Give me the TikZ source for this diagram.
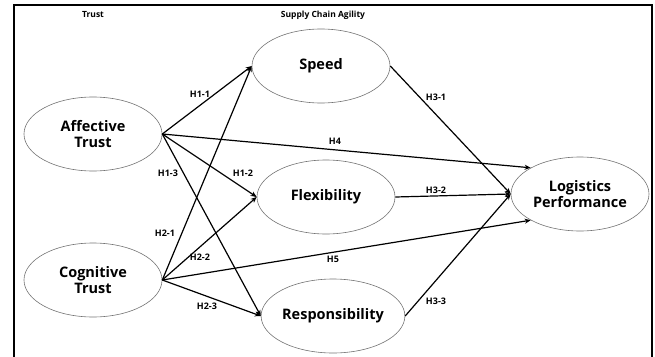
\documentclass[tikz,border=0pt]{standalone}
\usepackage{fontspec}
\setmainfont{Open Sans}
\usetikzlibrary{shapes.geometric,arrows.meta}
\begin{document}
\begin{tikzpicture}[x=1pt,y=-1pt,
  construct/.style={ellipse,draw=black!55,line width=0.6pt,minimum width=138pt,minimum height=74pt,inner sep=0pt,align=center,font=\fontsize{14.5}{16.5}\selectfont\bfseries},
  path/.style={line width=1.2pt,-{Stealth[length=6pt,width=5pt]}},
  hlab/.style={font=\fontsize{9}{10}\selectfont\bfseries,inner sep=1pt},
  head/.style={font=\fontsize{8.5}{10}\selectfont\bfseries,inner sep=1pt}]
\useasboundingbox (0,0) rectangle (655,356);
\draw[line width=2.5pt] (14,365) -- (14,5) -- (652,5) -- (652,365);
\node[head] (t1) at (93,15) {Trust};
\node[head] (t2) at (323,15) {Supply Chain Agility};
\node[construct] (A) at (93,134) {Affective\\Trust};
\node[construct] (C) at (93,280) {Cognitive\\Trust};
\node[construct] (S) at (321,66) {Speed};
\node[construct] (F) at (326,197) {Flexibility};
\node[construct] (R) at (333,316) {Responsibility};
\node[construct] (L) at (580,194) {Logistics\\Performance};
\draw[path] (A.east) -- (S.west);
\draw[path] (A.east) -- (F.west);
\draw[path] (A.east) -- (R.west);
\draw[path] (A.east) -- (L.152);
\draw[path] (C.east) -- (S.west);
\draw[path] (C.east) -- (F.west);
\draw[path] (C.east) -- (R.west);
\draw[path] (C.east) -- (L.208);
\draw[path] (S.east) -- (L.west);
\draw[path] (F.east) -- (L.west);
\draw[path] (R.east) -- (L.west);
\node[hlab] (h11) at (200,94) {H1-1};
\node[hlab] (h12) at (243,173) {H1-2};
\node[hlab] (h13) at (168,173) {H1-3};
\node[hlab] (h4) at (335,141) {H4};
\node[hlab] (h21) at (165,233) {H2-1};
\node[hlab] (h22) at (200,257) {H2-2};
\node[hlab] (h23) at (207,306) {H2-3};
\node[hlab] (h5) at (333,259) {H5};
\node[hlab] (h31) at (436,97) {H3-1};
\node[hlab] (h32) at (436,190) {H3-2};
\node[hlab] (h33) at (436,301) {H3-3};
\end{tikzpicture}
\end{document}
